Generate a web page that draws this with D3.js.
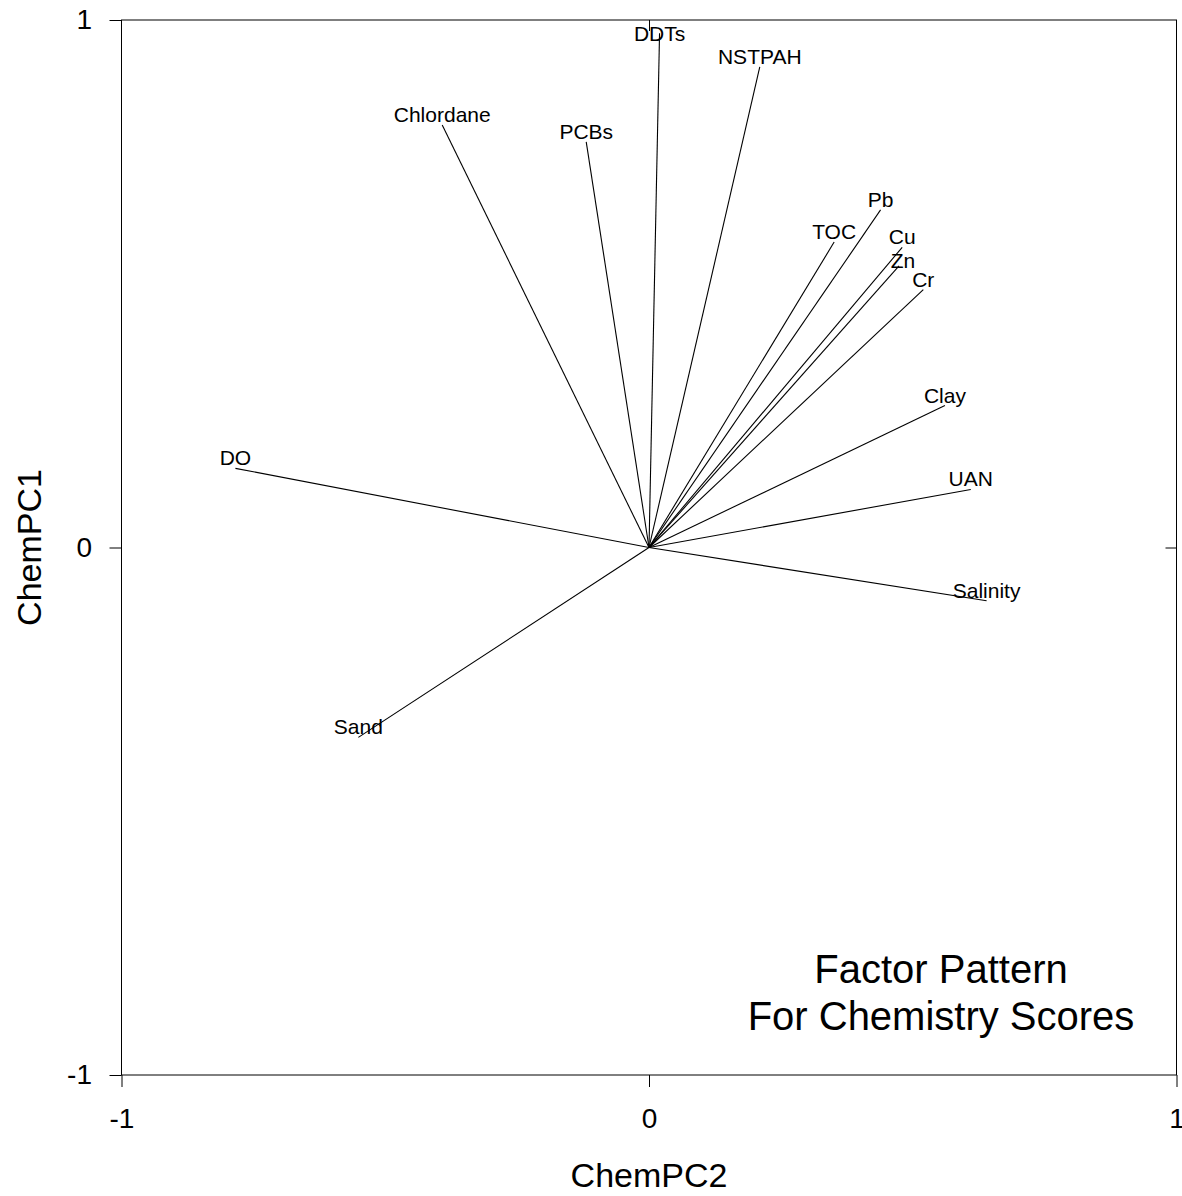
<!DOCTYPE html>
<html>
<head>
<meta charset="utf-8">
<script src="https://cdn.jsdelivr.net/npm/d3@7"></script>
<style>
  html, body { margin: 0; padding: 0; background: #fff; }
  svg { display: block; font-family: "Liberation Sans", Arial, Helvetica, sans-serif; }
</style>
</head>
<body>
<svg id="chart" width="1182" height="1196"></svg>
<script>
// Variable loadings on the two chemistry principal components
const variables = ["DDTs", "NSTPAH", "Chlordane", "PCBs", "Pb", "TOC", "Cu", "Zn", "Cr",
                   "Clay", "UAN", "Salinity", "DO", "Sand"];
const pc2 = [0.020, 0.210, -0.392, -0.119, 0.439, 0.351, 0.480, 0.474, 0.520,
             0.561, 0.610, 0.640, -0.784, -0.551];
const pc1 = [0.975, 0.911, 0.801, 0.769, 0.640, 0.579, 0.569, 0.534, 0.489,
             0.269, 0.110, -0.101, 0.150, -0.360];
const tickValues = [-1, 0, 1];
const titleLines = ["Factor Pattern", "For Chemistry Scores"];

(function () {
  const svg = d3.select("#chart");
  const plotLeft = 121.5, plotRight = 1176.5, plotTop = 20, plotBottom = 1075;

  const x = d3.scaleLinear().domain([-1, 1]).range([plotLeft, plotRight]);
  const y = d3.scaleLinear().domain([-1, 1]).range([plotBottom, plotTop]);

  // plain hyphen-minus for negative tick labels
  const fmt = d => String(d);

  const axisText = g => g.selectAll("text")
    .attr("fill", "#000").style("font-size", "28px")
    .style("font-family", "'Liberation Sans', Arial, sans-serif");

  // Axes: outward ticks on left/bottom, inward ticks on top/right
  svg.append("g").attr("transform", `translate(${plotLeft},0)`)
    .call(d3.axisLeft(y).tickValues(tickValues).tickSize(12).tickSizeOuter(0).tickPadding(17.5).tickFormat(fmt))
    .call(g => g.select(".domain").remove())
    .call(g => g.selectAll("line").attr("stroke", "#000"))
    .call(axisText);

  svg.append("g").attr("transform", `translate(0,${plotBottom})`)
    .call(d3.axisBottom(x).tickValues(tickValues).tickSize(12).tickSizeOuter(0).tickPadding(21).tickFormat(fmt))
    .call(g => g.select(".domain").remove())
    .call(g => g.selectAll("line").attr("stroke", "#000"))
    .call(axisText);

  svg.append("g").attr("transform", `translate(0,${plotTop})`)
    .call(d3.axisTop(x).tickValues([0]).tickSize(-11).tickSizeOuter(0).tickFormat(""))
    .call(g => g.select(".domain").remove())
    .call(g => g.selectAll("line").attr("stroke", "#000"));

  svg.append("g").attr("transform", `translate(${plotRight},0)`)
    .call(d3.axisRight(y).tickValues([0]).tickSize(-11).tickSizeOuter(0).tickFormat(""))
    .call(g => g.select(".domain").remove())
    .call(g => g.selectAll("line").attr("stroke", "#000"));

  // Plot frame
  svg.append("rect")
    .attr("x", plotLeft).attr("y", plotTop)
    .attr("width", plotRight - plotLeft).attr("height", plotBottom - plotTop)
    .attr("fill", "none").attr("stroke", "#000").attr("stroke-width", 1);

  // Loading vectors from the origin
  const rows = variables.map((name, i) => ({ name, px: pc2[i], py: pc1[i] }));

  svg.append("g").selectAll("line").data(rows).join("line")
    .attr("x1", x(0)).attr("y1", y(0))
    .attr("x2", d => x(d.px)).attr("y2", d => y(d.py))
    .attr("stroke", "#000").attr("stroke-width", 1.1);

  // small label nudges where tips crowd together
  const nudge = { Zn: [4, 5] };

  svg.append("g").selectAll("text").data(rows).join("text")
    .attr("x", d => x(d.px) + (nudge[d.name] ? nudge[d.name][0] : 0))
    .attr("y", d => Math.max(y(d.py) - 3, plotTop + 21) + (nudge[d.name] ? nudge[d.name][1] : 0))
    .attr("text-anchor", "middle")
    .style("font-size", "21px")
    .attr("fill", "#000")
    .text(d => d.name);

  // Axis titles
  svg.append("text")
    .attr("x", x(0)).attr("y", 1187)
    .attr("text-anchor", "middle")
    .style("font-size", "34px")
    .text("ChemPC2");

  svg.append("text")
    .attr("transform", `translate(41,${y(0)}) rotate(-90)`)
    .attr("text-anchor", "middle")
    .style("font-size", "34px")
    .text("ChemPC1");

  // Inset title
  svg.append("g").selectAll("text").data(titleLines).join("text")
    .attr("x", 941)
    .attr("y", (d, i) => 983 + i * 47)
    .attr("text-anchor", "middle")
    .style("font-size", "40px")
    .text(d => d);
})();
</script>
</body>
</html>
